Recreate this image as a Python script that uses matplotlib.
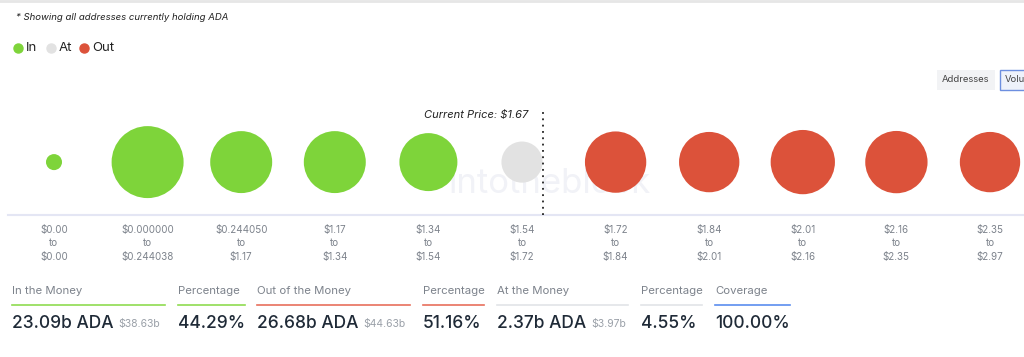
import matplotlib.pyplot as plt

plt.rcParams['font.family'] = ['Inter', 'DejaVu Sans']

# price clusters (volume in billions ADA)
range_lo = ["$0.00", "$0.000000", "$0.244050", "$1.17", "$1.34", "$1.54",
            "$1.72", "$1.84", "$2.01", "$2.16", "$2.35"]
range_hi = ["$0.00", "$0.244038", "$1.17", "$1.34", "$1.54", "$1.72",
            "$1.84", "$2.01", "$2.16", "$2.35", "$2.97"]
volume = [0.36, 7.26, 5.38, 5.38, 4.71, 2.37, 5.27, 5.10, 5.79, 5.44, 5.10]
status = ["in", "in", "in", "in", "in", "at", "out", "out", "out", "out", "out"]

current_price = 1.67
at_bin = 5
at_lo, at_hi = 1.54, 1.72

# summary
stat_labels = ["In the Money", "Percentage", "Out of the Money", "Percentage",
               "At the Money", "Percentage", "Coverage"]
stat_values = ["23.09b ADA", "44.29%", "26.68b ADA", "51.16%",
               "2.37b ADA", "4.55%", "100.00%"]
stat_usd = ["$38.63b", "", "$44.63b", "", "$3.97b", "", ""]

colors = {"in": "#7ed43a", "at": "#e2e2e2", "out": "#dc523a"}
line_colors = ["#8fdc50", "#8fdc50", "#e8705c", "#e8705c", "#e2e4e8", "#e2e4e8", "#5b8def"]
dark = "#1f2a37"
grey = "#7d838c"

W, H = 1024, 357
fig = plt.figure(figsize=(W / 100, H / 100), dpi=100)


def fx(x):
    return x / W


def fy(y):
    return 1 - y / H


# top border
fig.add_artist(plt.Line2D([0, 1], [fy(1), fy(1)], color="#e6e6e6", lw=2))

fig.text(fx(16), fy(18), "* Showing all addresses currently holding ADA",
         fontsize=6.9, style="italic", color="#222", va="center")

# legend
for xp, lab, key in [(18, "In", "in"), (51, "At", "at"), (84, "Out", "out")]:
    fig.add_artist(plt.Line2D([fx(xp)], [fy(48)], marker="o", markersize=6.5,
                              color=colors[key], lw=0))
    fig.text(fx(xp + 8), fy(48), lab, fontsize=9.5, color="#222", va="center")

# buttons
fig.patches.append(plt.Rectangle((fx(937), fy(90)), fx(58), 20 / H,
                                 transform=fig.transFigure, color="#f2f3f5", lw=0))
fig.text(fx(966), fy(80), "Addresses", fontsize=6.8, color="#444", ha="center", va="center")
fig.patches.append(plt.Rectangle((fx(999.5), fy(90)), fx(30), 20 / H,
                                 transform=fig.transFigure, facecolor="#eef2fb",
                                 edgecolor="#6d8fe0", lw=1))
fig.text(fx(1005), fy(80), "Volu", fontsize=6.8, color="#444", va="center")

# bubble axis
ax = fig.add_axes([fx(8), fy(215), fx(1016), 115 / H])
ax.set_ylim(0, 1)
ax.set_xlim((8 - 54) / 93.6, (1024 - 54) / 93.6)
xs = list(range(len(volume)))

ax.text(5.3, 0.27, "intotheblock", fontsize=25, color="#f1f2f7",
        ha="center", va="center", zorder=1)

ax.scatter(xs, [0.46] * len(xs), s=[v * 370 for v in volume],
           c=[colors[s] for s in status], linewidths=0, zorder=3)

price_x = at_bin - 0.5 + (current_price - at_lo) / (at_hi - at_lo)
ax.plot([price_x, price_x], [0, 0.93], color="#222", lw=1.3,
        linestyle=(0, (1, 2.5)), zorder=4)
ax.text(price_x - 0.16, 0.87, f"Current Price: ${current_price:.2f}",
        fontsize=8, style="italic", color="#222", ha="right", va="center")

for sp in ["top", "left", "right"]:
    ax.spines[sp].set_visible(False)
ax.spines["bottom"].set_color("#e4e6f4")
ax.spines["bottom"].set_linewidth(1.5)
ax.set_yticks([])
ax.set_xticks(xs)
ax.set_xticklabels([f"{a}\nto\n{b}" for a, b in zip(range_lo, range_hi)],
                   fontsize=7.1, color=grey, linespacing=1.45)
ax.tick_params(axis="x", length=0, pad=7)
ax.patch.set_alpha(0)

# summary stats
col_x = [12, 178, 257, 423, 497, 641, 715]
col_w = [153, 67, 153, 61, 131, 61, 75]
for i in range(len(stat_labels)):
    x0 = col_x[i]
    fig.text(fx(x0), fy(291), stat_labels[i], fontsize=8.2, color=grey, va="center")
    fig.add_artist(plt.Line2D([fx(x0), fx(x0 + col_w[i])], [fy(305), fy(305)],
                              color=line_colors[i], lw=1.2))
    t = fig.text(fx(x0), fy(323), stat_values[i], fontsize=12.5, color=dark,
                 va="center", fontweight="medium")
    if stat_usd[i]:
        fig.canvas.draw()
        bb = t.get_window_extent()
        fig.text(fx(bb.x1 + 5), fy(324), stat_usd[i], fontsize=7.5, color="#9aa0a8",
                 va="center")

fig.savefig("out.png", dpi=100)
